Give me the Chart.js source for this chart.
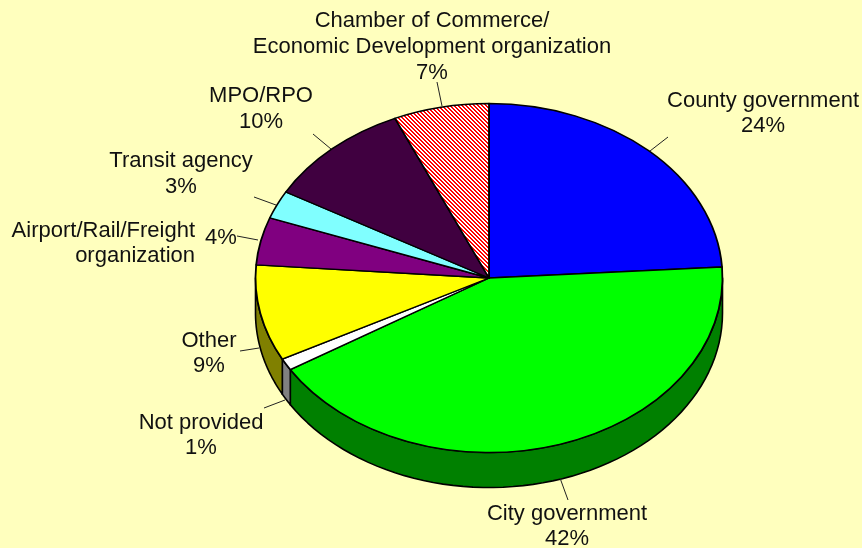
<!DOCTYPE html>
<html><head><meta charset="utf-8">
<style>html,body{margin:0;padding:0;background:#FFFFBE;overflow:hidden}#w{position:relative;width:862px;height:548px}</style>
<script src="https://cdn.jsdelivr.net/npm/chart.js@4"></script>
</head><body><div id="w"><canvas id="c" width="862" height="548"></canvas></div>
<script>
const categories = ["County government","City government","Not provided","Other","Airport/Rail/Freight organization","Transit agency","MPO/RPO","Chamber of Commerce/Economic Development organization"];
const shareValues = [24,42.2,1.1,8.9,4.4,2.6,10.2,6.6];
const shareLabels = ["24%","42%","1%","9%","4%","3%","10%","7%"];

const BG = "#FFFFBE";
const topColors = ["#0000FF","#00FF00","#FFFFFF","#FFFF00","#800080","#80FFFF","#400040",null];
const wallColors = ["#000080","#008000","#808080","#808000","#400040","#408080","#200020","#804040"];
const CX = 489, CY = 278, RX = 233.5, RY = 174.5, DEPTH = 35, BW = 1.8;

const labelLayout = [
  {lines:["County government",shareLabels[0]],x:763,y:101,step:25,align:"center"},
  {lines:["City government",shareLabels[1]],x:567,y:514,step:25,align:"center"},
  {lines:["Not provided",shareLabels[2]],x:201,y:423,step:25,align:"center"},
  {lines:["Other",shareLabels[3]],x:209,y:341,step:25,align:"center"},
  {lines:["Airport/Rail/Freight","organization"],x:195,y:231,step:25,align:"right"},
  {lines:[shareLabels[4]],x:221,y:238,step:25,align:"center"},
  {lines:["Transit agency",shareLabels[5]],x:181,y:161,step:26,align:"center"},
  {lines:["MPO/RPO",shareLabels[6]],x:261,y:96,step:26,align:"center"},
  {lines:["Chamber of Commerce/","Economic Development organization",shareLabels[7]],x:432,y:21,step:26,align:"center"}
];
const leaders = [[650,151,668,137],[560,478,568,500],[285,400,264,408],[259,348,240,351],[258,240,237,236],[276,205,254,197],[331,149,313,134],[442,106,437,82]];

const K = RY/RX;
function hatch(){
  const s=4, p=document.createElement("canvas"); p.width=s;p.height=s;
  const g=p.getContext("2d"); g.fillStyle="#fff";g.fillRect(0,0,s,s);
  g.fillStyle="#FF0000";
  for(let y=0;y<s;y++){g.fillRect(y%s,y,1,1);g.fillRect((y+1)%s,y,1,1);}
  return g.createPattern(p,"repeat");
}
const ctxMain=document.getElementById("c").getContext("2d");
topColors[7]=hatch();

const pie3d={
  id:"pie3d",
  beforeDatasetsDraw(chart){
    const ctx=chart.ctx, arcs=chart.getDatasetMeta(0).data;
    const a0=arcs[0]; const x=a0.x,y=a0.y,r=a0.outerRadius;
    topColors[7].setTransform(new DOMMatrix([1,0,0,1/K,0,y-y/K]));
    arcs.forEach((a,i)=>{
      const s=Math.max(a.startAngle,0), e=Math.min(a.endAngle,Math.PI);
      if(e<=s) return;
      ctx.save();
      ctx.beginPath();
      const pt=t=>[x+r*Math.cos(t), y+r*K*Math.sin(t)];
      const N=60;
      for(let n=0;n<=N;n++){const t=s+(e-s)*n/N,p=pt(t); n?ctx.lineTo(p[0],p[1]):ctx.moveTo(p[0],p[1]);}
      for(let n=N;n>=0;n--){const t=s+(e-s)*n/N,p=pt(t); ctx.lineTo(p[0],p[1]+DEPTH);}
      ctx.closePath();
      ctx.fillStyle=wallColors[i];ctx.fill();
      ctx.strokeStyle="#000";ctx.lineWidth=1.6;ctx.lineJoin="round";ctx.stroke();
      ctx.restore();
    });
    ctx.save();
    ctx.translate(x,y);ctx.scale(1,K);ctx.translate(-x,-y);
  },
  afterDatasetsDraw(chart){
    const ctx=chart.ctx;
    ctx.restore();
    ctx.save();
    ctx.strokeStyle="#222";ctx.lineWidth=1;
    leaders.forEach(l=>{ctx.beginPath();ctx.moveTo(l[0],l[1]);ctx.lineTo(l[2],l[3]);ctx.stroke();});
    ctx.fillStyle="#111";ctx.font='22px "Liberation Sans", Arial, sans-serif';ctx.textBaseline="middle";
    labelLayout.forEach(b=>{ctx.textAlign=b.align;b.lines.forEach((t,i)=>ctx.fillText(t,b.x,b.y+i*b.step));});
    ctx.restore();
  }
};

const side = RX*2+BW;
new Chart(document.getElementById("c"),{
  type:"pie",
  data:{labels:categories,datasets:[{data:shareValues,backgroundColor:topColors,borderColor:"#000",borderWidth:BW,borderJoinStyle:"round",hoverOffset:0}]},
  options:{
    responsive:false,animation:false,
    layout:{padding:{left:CX-side/2,right:862-CX-side/2,top:CY-side/2,bottom:548-CY-side/2}},
    plugins:{legend:{display:false},tooltip:{enabled:false},title:{display:false}}
  },
  plugins:[{id:"bg",beforeDraw(c){const x=c.ctx;x.save();x.fillStyle=BG;x.fillRect(0,0,862,548);x.restore();}},pie3d]
});
</script></body></html>
